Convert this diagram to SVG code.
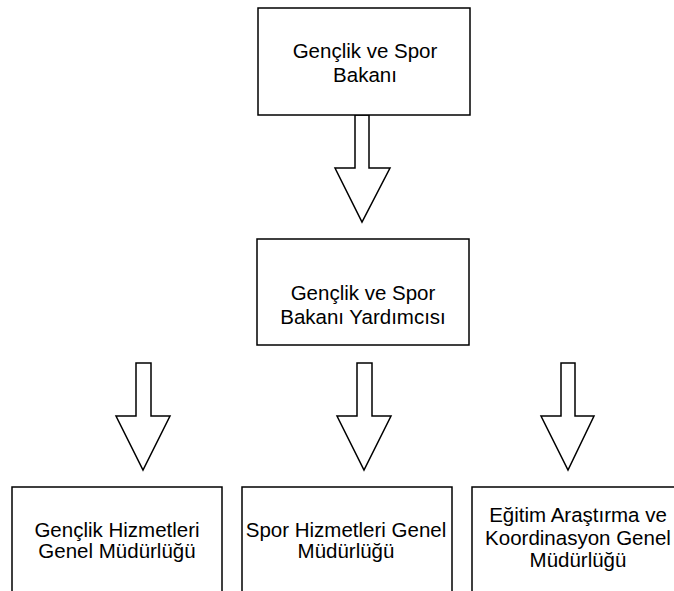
<svg xmlns="http://www.w3.org/2000/svg" width="674" height="591" viewBox="0 0 674 591">
<style>
.box{fill:#fff;stroke:#000;stroke-width:1.5}
.arr{fill:#fff;stroke:#000;stroke-width:1.5;stroke-linejoin:miter}
.t{font-family:"Liberation Sans",Arial,Helvetica,sans-serif;font-size:20.5px;fill:#000;text-anchor:middle}
</style>
<rect width="674" height="591" fill="#fff"/>
<g id="connectors">
<polygon class="arr" points="355,115 369,115 369,168 390,168 362,222 335,168 355,168"/>
<polygon class="arr" points="136,363 151,363 151,416 170,416 143,470 116,416 136,416"/>
<polygon class="arr" points="357,363 372,363 372,416 391,416 364,470 337,416 357,416"/>
<polygon class="arr" points="561,363 575,363 575,416 594,416 568,470 541,416 561,416"/>
</g>
<g id="n1">
<rect class="box" x="258" y="8" width="212" height="107"/>
<text class="t" x="365" y="58">Gençlik ve Spor</text>
<text class="t" x="365" y="82">Bakanı</text>
</g>
<g id="n2">
<rect class="box" x="257" y="239" width="212" height="106"/>
<text class="t" x="363" y="300">Gençlik ve Spor</text>
<text class="t" x="363" y="324">Bakanı Yardımcısı</text>
</g>
<g id="n3">
<rect class="box" x="12" y="487" width="210" height="120"/>
<text class="t" x="117" y="537">Gençlik Hizmetleri</text>
<text class="t" x="117" y="558">Genel Müdürlüğü</text>
</g>
<g id="n4">
<rect class="box" x="242" y="487" width="210" height="120"/>
<text class="t" x="346" y="537">Spor Hizmetleri Genel</text>
<text class="t" x="346" y="558">Müdürlüğü</text>
</g>
<g id="n5">
<rect class="box" x="472" y="487" width="212" height="120"/>
<text class="t" x="578" y="522">Eğitim Araştırma ve</text>
<text class="t" x="578" y="545">Koordinasyon Genel</text>
<text class="t" x="578" y="567">Müdürlüğü</text>
</g>
</svg>
